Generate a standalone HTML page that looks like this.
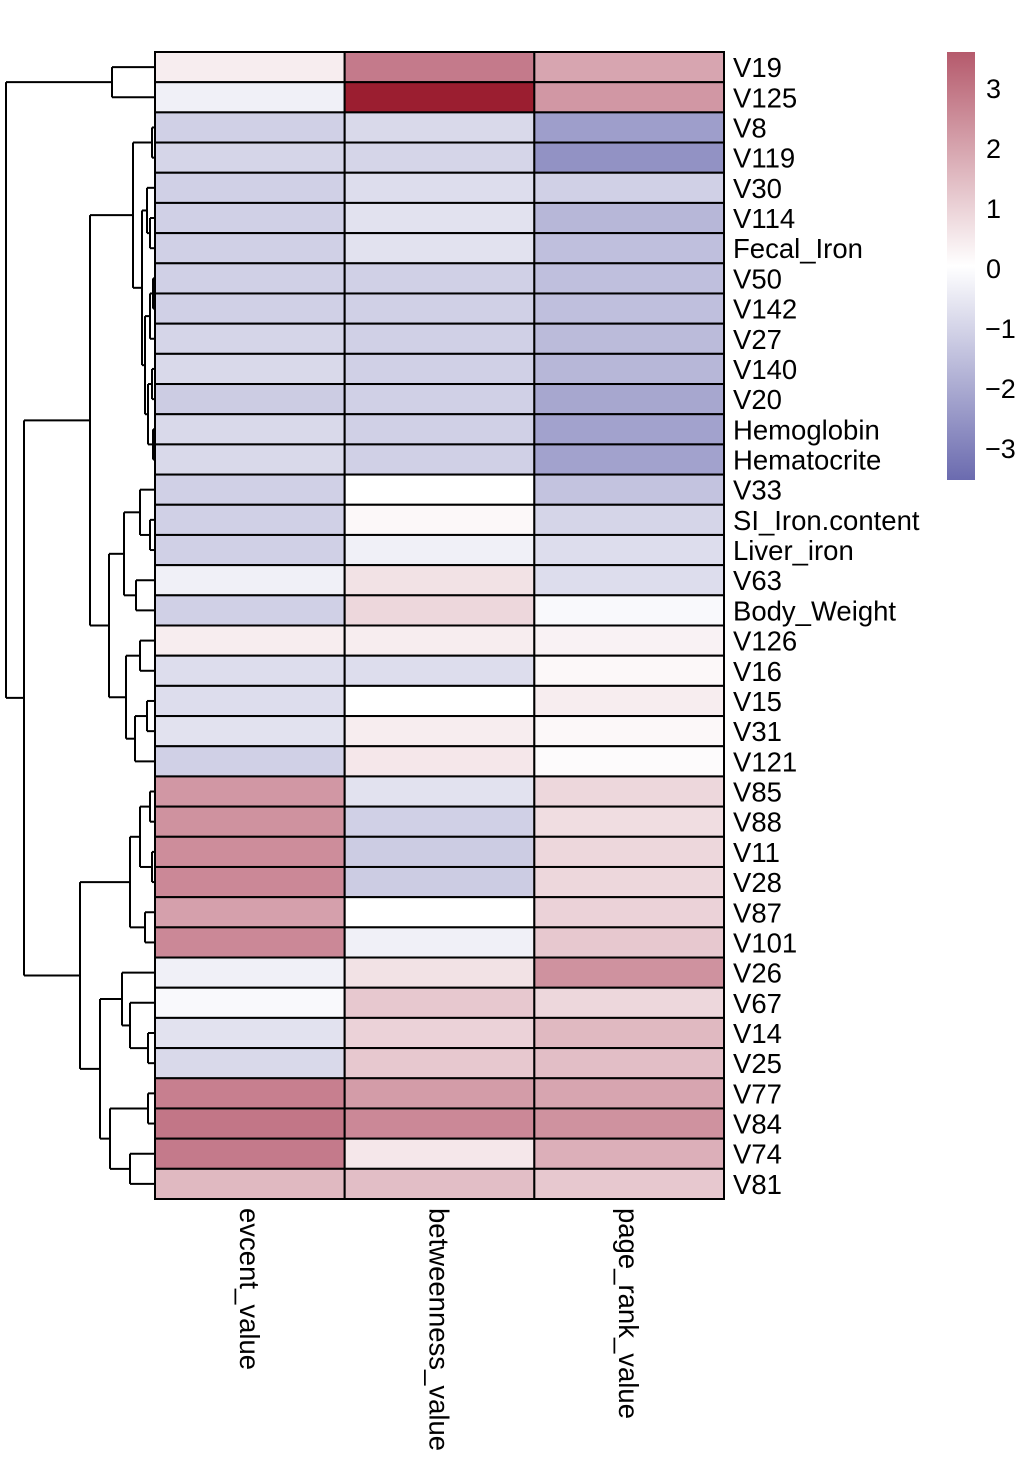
<!DOCTYPE html>
<html><head><meta charset="utf-8"><style>
html,body{margin:0;padding:0;background:#fff;}
svg text{font-family:"Liberation Sans",Arial,sans-serif;fill:#000;}
</style></head><body>
<svg id="chart" width="1022" height="1474" viewBox="0 0 1022 1474" xmlns="http://www.w3.org/2000/svg">
<defs><linearGradient id="cb" x1="0" y1="0" x2="0" y2="1">
<stop offset="0" stop-color="#B55A6C"/><stop offset="0.5" stop-color="#ffffff"/><stop offset="1" stop-color="#6B6BAF"/></linearGradient></defs>
<g id="dendro"></g>
<g id="cells"></g>
<g id="rowlabels"></g>
<g id="collabels"></g>
<g>
<rect x="947" y="52" width="28" height="428" fill="url(#cb)"/>
<g id="legticks"></g>
</g>
</svg>
<script>
const rowNames=["V19","V125","V8","V119","V30","V114","Fecal_Iron","V50","V142","V27","V140","V20","Hemoglobin","Hematocrite","V33","SI_Iron.content","Liver_iron","V63","Body_Weight","V126","V16","V15","V31","V121","V85","V88","V11","V28","V87","V101","V26","V67","V14","V25","V77","V84","V74","V81"];
const colNames=["evcent_value","betweenness_value","page_rank_value"];
const evcent=[0.3,-0.3,-1.0,-0.9,-1.0,-1.0,-1.0,-1.0,-1.0,-0.9,-0.8,-1.1,-0.8,-0.8,-1.0,-1.0,-1.0,-0.3,-1.0,0.3,-0.7,-0.7,-0.6,-1.0,2.0,2.1,2.2,2.3,1.8,2.3,-0.3,-0.1,-0.6,-0.8,2.5,2.7,2.6,1.3];
const betweenness=[2.6,5.0,-0.8,-0.9,-0.7,-0.6,-0.6,-1.0,-1.0,-1.0,-1.0,-1.0,-1.0,-1.0,0.0,0.1,-0.3,0.5,0.7,0.3,-0.7,0.0,0.3,0.4,-0.6,-1.0,-1.1,-1.1,0.0,-0.3,0.5,1.0,0.8,1.0,1.9,2.3,0.4,1.2];
const pagerank=[1.7,2.0,-2.2,-2.5,-1.0,-1.6,-1.4,-1.4,-1.4,-1.5,-1.6,-2.0,-2.1,-2.1,-1.3,-0.9,-0.7,-0.7,-0.1,0.2,0.1,0.3,0.1,0.05,0.7,0.6,0.7,0.7,0.8,1.0,2.1,0.7,1.3,1.2,1.7,2.1,1.5,1.0];
const legendTicks=[3,2,1,0,-1,-2,-3];
// dendrogram: [height, left, right]; numbers = leaf indices
const tree=[6,[112,0,1],[24,[90,[133,[152,2,3],[142,[147,4,[150,5,6]],[145,[150,[153,7,8],9],[148,[152,10,11],[153,12,13]]]]],[109,[124,[140,14,[150,15,16]],[136,17,18]],[126,[140,19,20],[135,[147,21,22],23]]]],[80,[130,[140,[150,24,25],[152,26,27]],[145,28,29]],[100,[122,30,[130,31,[148,32,33]]],[110,[148,34,35],[130,36,37]]]]]];

const X0=155,X1=724,Y0=52,Y1=1199;
const cw=(X1-X0)/colNames.length, rh=(Y1-Y0)/rowNames.length;
const ns="http://www.w3.org/2000/svg";
function yS(v){return 268-60*v;}
function mix(a,b,t){return a.map((x,i)=>Math.round(x+(b[i]-x)*t));}
function color(v){
  let c;
  if(v>=0){ if(v<=3.6) c=mix([255,255,255],[176,76,98],Math.pow(v/3.6,0.92)); else c=mix([176,76,98],[155,30,48],Math.min(1,(v-3.6)/1.4)); }
  else c=mix([255,255,255],[107,107,175],Math.pow(Math.min(1,-v/3.5),0.92));
  return `rgb(${c[0]},${c[1]},${c[2]})`;
}
const series=[evcent,betweenness,pagerank];
const cells=document.getElementById('cells');
series.forEach((s,ci)=>{s.forEach((v,ri)=>{
  const r=document.createElementNS(ns,'rect');
  r.setAttribute('x',X0+ci*cw);r.setAttribute('y',Y0+ri*rh);
  r.setAttribute('width',cw);r.setAttribute('height',rh);
  r.setAttribute('fill',color(v));r.setAttribute('stroke','#000');r.setAttribute('stroke-width','2');
  
  
  cells.appendChild(r);
});});
const rl=document.getElementById('rowlabels');
rowNames.forEach((n,i)=>{
  const t=document.createElementNS(ns,'text');
  t.setAttribute('x',733);t.setAttribute('y',Y0+(i+0.5)*rh+10);
  t.setAttribute('font-size','27.5');t.textContent=n;
  
  
  rl.appendChild(t);
});
const cl=document.getElementById('collabels');
colNames.forEach((n,i)=>{
  const t=document.createElementNS(ns,'text');
  const cx=X0+(i+0.5)*cw-10;
  t.setAttribute('transform',`translate(${cx},1208) rotate(90)`);
  t.setAttribute('font-size','27.5');t.textContent=n;
  
  
  cl.appendChild(t);
});
const lt=document.getElementById('legticks');
legendTicks.forEach(v=>{
  const t=document.createElementNS(ns,'text');
  t.setAttribute('x',v<0?985:986);t.setAttribute('y',yS(v)+10);
  t.setAttribute('font-size','27');t.textContent=v<0?'\u2212'+(-v):String(v);
  
  
  lt.appendChild(t);
});
const dg=document.getElementById('dendro');
function line(x1,y1,x2,y2){
  const l=document.createElementNS(ns,'line');
  l.setAttribute('x1',x1);l.setAttribute('y1',y1);l.setAttribute('x2',x2);l.setAttribute('y2',y2);
  l.setAttribute('stroke','#000');l.setAttribute('stroke-width','2');
  
  
  dg.appendChild(l);
}
function draw(node){
  if(typeof node==='number') return {x:X0,y:Y0+(node+0.5)*rh};
  const h=node[0],a=draw(node[1]),b=draw(node[2]);
  line(h,a.y,a.x,a.y);line(h,b.y,b.x,b.y);line(h,a.y,h,b.y);
  return {x:h,y:(a.y+b.y)/2};
}
draw(tree);
</script>
</body></html>
